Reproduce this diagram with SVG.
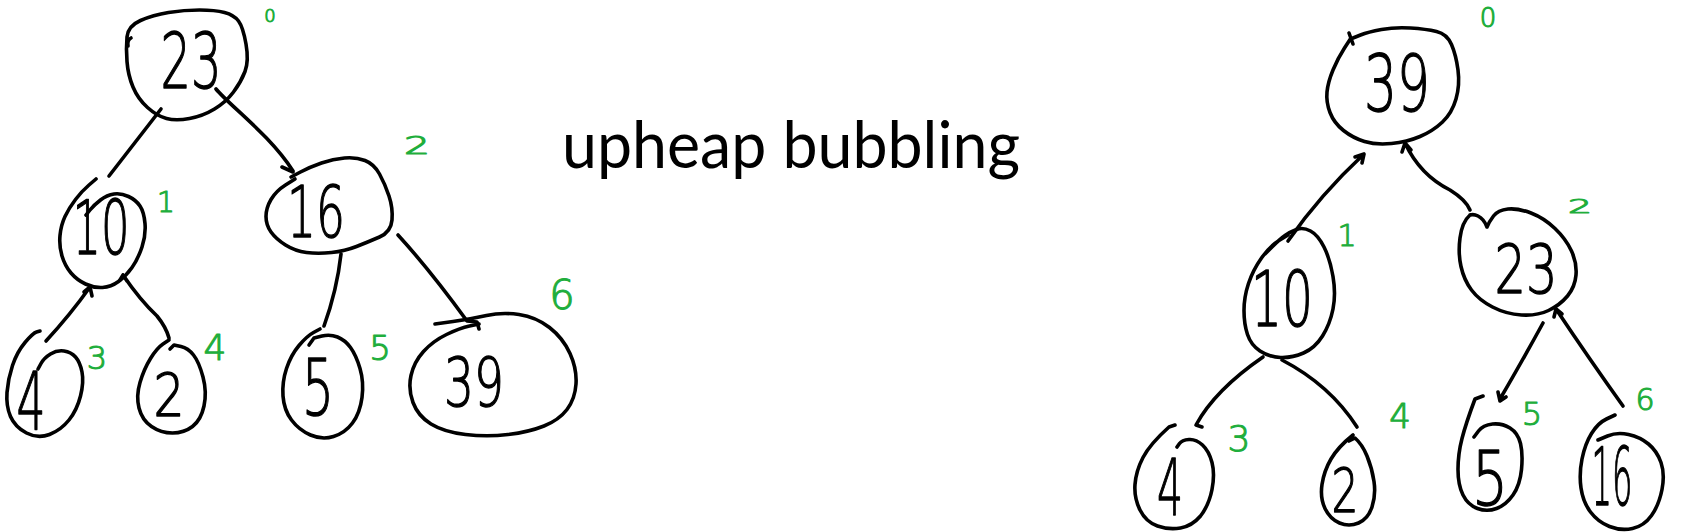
<svg xmlns="http://www.w3.org/2000/svg" width="1702" height="532" viewBox="0 0 1702 532">
<style>
.o{fill:none;stroke:#000;stroke-width:3.6;stroke-linecap:round;stroke-linejoin:round}
.v{font-family:"DejaVu Sans","Liberation Sans",sans-serif;font-weight:200;fill:#000;stroke:#000;stroke-width:1.4;stroke-linejoin:round;text-anchor:middle}
.i{font-family:"DejaVu Sans","Liberation Sans",sans-serif;font-weight:200;fill:#1fae3c;stroke:#1fae3c;stroke-width:1.1;stroke-linejoin:round;text-anchor:middle}
.t{font-family:Lato,"Noto Sans",sans-serif;font-size:66px;fill:#000}
</style>
<rect width="1702" height="532" fill="#fff"/>
<g id="connectors" class="o">
<path d="M161,109 L109,176"/>
<path d="M216,89 C230,106 270,135 293,171 M282,167 L293,172"/>
<path d="M90,287 Q70,315 46,341 M84,292 L90,287 L92,296"/>
<path d="M123,275 Q140,300 157,316 Q166,327 169,338 M120,280 L123,275 L127,281"/>
<path d="M341,254 Q337,290 324,326"/>
<path d="M398,235 Q430,270 467,321 L477,322 L479,329"/>
<path d="M1364,154 Q1320,195 1288,241 M1355,157 L1364,154 L1362,163"/>
<path d="M1405,143 Q1420,175 1450,190 Q1466,200 1470,210 M1402,152 L1405,143 L1411,150"/>
<path d="M1263,357 Q1215,390 1196,425 L1202,427"/>
<path d="M1282,360 Q1330,385 1357,427"/>
<path d="M1543,323 Q1520,365 1500,399 M1498,392 L1500,401 L1506,397"/>
<path d="M1556,309 Q1590,360 1623,406 M1554,317 L1556,309 L1562,314"/>
</g>
<text class="t" x="562" y="168" textLength="458" lengthAdjust="spacingAndGlyphs">upheap bubbling</text>
<g id="L23">
<path class="o" d="M140.5,20.5 Q153,15 168.5,12.5 Q184,10 199.5,10 Q215,10 224.5,12.5 Q234,15 238.5,21 Q243,27 246,44 Q249,61 245,71.5 Q241,82 233.5,92 Q226,102 214.5,109 Q203,116 189.5,118.5 Q176,121 166.5,118.5 Q157,116 147.5,107.5 Q138,99 133,87 Q128,75 127,61.5 Q126,48 127,37 Q128,26 140.5,20.5 M131,38 Q127,40 128,46"/>
<text class="v" x="191" y="88" font-size="77" textLength="61" lengthAdjust="spacingAndGlyphs">23</text>
<text class="i" x="270" y="22" font-size="18">0</text>
</g>
<g id="L10">
<path class="o" d="M96,179 L89,185 Q82,191 75.5,199.5 Q69,208 65,216.5 Q61,225 60,235.5 Q59,246 62,256 Q65,266 71,273 Q77,280 85.5,284 Q94,288 102.5,287.5 Q111,287 118.5,281.5 Q126,276 132,267.5 Q138,259 142,247 Q146,235 145,223.5 Q144,212 140,206 Q136,200 128.5,196.5 Q121,193 114,194 Q107,195 100.5,200 Q94,205 90,210 L86,215"/>
<text class="v" x="101" y="254" font-size="75" textLength="57" lengthAdjust="spacingAndGlyphs">10</text>
<text class="i" x="166" y="212" font-size="28">1</text>
</g>
<g id="L16">
<path class="o" d="M295,179 L285.5,185 Q276,191 271,199.5 Q266,208 266,216.5 Q266,225 271,232 Q276,239 285.5,245 Q295,251 306.5,252.5 Q318,254 331.5,252.5 Q345,251 356.5,246.5 Q368,242 379.5,237 Q391,232 392,220 Q393,208 389,196 Q385,184 379.5,174 Q374,164 365,160.5 Q356,157 344.5,158 Q333,159 321.5,163 Q310,167 300.5,172 L291,177"/>
<text class="v" x="316" y="237" font-size="71" textLength="58" lengthAdjust="spacingAndGlyphs">16</text>
<text class="i" x="417" y="154" font-size="24" textLength="26" lengthAdjust="spacingAndGlyphs">2</text>
</g>
<g id="L4">
<path class="o" d="M40,331 L36.5,332 Q33,333 25,342.5 Q17,352 12.5,365.5 Q8,379 7,392.5 Q6,406 10.5,416.5 Q15,427 26.5,433 Q38,439 49.5,434.5 Q61,430 69,420 Q77,410 80.5,396 Q84,382 82,372 Q80,362 75.5,357 Q71,352 64,351 Q57,350 50.5,354 Q44,358 41,363.5 L38,369"/>
<text class="v" x="31" y="430" font-size="80" textLength="29" lengthAdjust="spacingAndGlyphs">4</text>
<text class="i" x="97" y="369" font-size="32">3</text>
</g>
<g id="L2">
<path class="o" d="M169,340 L163,344 Q157,348 150.5,358.5 Q144,369 140,382.5 Q136,396 139,408 Q142,420 151.5,426.5 Q161,433 172.5,433 Q184,433 192.5,426.5 Q201,420 204,406 Q207,392 203,377 Q199,362 193.5,355 Q188,348 181,346.5 L174,345 L170,349"/>
<text class="v" x="169" y="416" font-size="58" textLength="31" lengthAdjust="spacingAndGlyphs">2</text>
<text class="i" x="215" y="360" font-size="36">4</text>
</g>
<g id="L5">
<path class="o" d="M320,329 L313.5,332.5 Q307,336 299,345.5 Q291,355 286.5,368.5 Q282,382 283,396 Q284,410 291.5,420 Q299,430 310.5,435 Q322,440 333.5,436.5 Q345,433 352.5,423 Q360,413 362,397.5 Q364,382 360,368.5 Q356,355 350.5,347.5 Q345,340 337.5,337 Q330,334 322,336 L314,338 L309,345"/>
<text class="v" x="318" y="415" font-size="78" textLength="32" lengthAdjust="spacingAndGlyphs">5</text>
<text class="i" x="380" y="360" font-size="34">5</text>
</g>
<g id="L39">
<path class="o" d="M435,324 L453,321.5 Q471,319 486.5,315.5 Q502,312 519,314.5 Q536,317 549.5,327.5 Q563,338 570,353.5 Q577,369 576,384 Q575,399 567,409.5 Q559,420 544,426 Q529,432 508,434.5 Q487,437 465.5,434.5 Q444,432 431,424 Q418,416 413,402.5 Q408,389 411,375.5 Q414,362 423.5,351.5 Q433,341 446.5,334.5 Q460,328 469.5,326 L479,324"/>
<text class="v" x="474" y="406" font-size="67" textLength="60" lengthAdjust="spacingAndGlyphs">39</text>
<text class="i" x="562" y="309" font-size="40">6</text>
</g>
<g id="R39">
<path class="o" d="M1351,38 L1344.5,48 Q1338,58 1333,70 Q1328,82 1327,92 Q1326,102 1330,112.5 Q1334,123 1343.5,130.5 Q1353,138 1364.5,141.5 Q1376,145 1391.5,143.5 Q1407,142 1420,136.5 Q1433,131 1442.5,122 Q1452,113 1456,99 Q1460,85 1458,70 Q1456,55 1451.5,44.5 Q1447,34 1436.5,31.5 Q1426,29 1410.5,28 Q1395,27 1381.5,29.5 Q1368,32 1360.5,35 L1353,38 M1349,33 L1353,44"/>
<text class="v" x="1397" y="111" font-size="78" textLength="66" lengthAdjust="spacingAndGlyphs">39</text>
<text class="i" x="1488" y="27" font-size="26">0</text>
</g>
<g id="R10">
<path class="o" d="M1288,235 L1279,240.5 Q1270,246 1261.5,258 Q1253,270 1248.5,283.5 Q1244,297 1244,310.5 Q1244,324 1247.5,334.5 Q1251,345 1260,351 Q1269,357 1280.5,357.5 Q1292,358 1303.5,353 Q1315,348 1322.5,336 Q1330,324 1333,309 Q1336,294 1333,276.5 Q1330,259 1324,247 Q1318,235 1310.5,231 Q1303,227 1296.5,229.5 Q1290,232 1285,235.5 Q1280,239 1272.5,246.5 L1265,254"/>
<text class="v" x="1282" y="326" font-size="77" textLength="62" lengthAdjust="spacingAndGlyphs">10</text>
<text class="i" x="1347" y="246" font-size="30">1</text>
</g>
<g id="R23">
<path class="o" d="M1470,215 Q1462,222 1460,238 Q1458,253 1461,266.5 Q1464,280 1471.5,290 Q1479,300 1492.5,307 Q1506,314 1521.5,315 Q1537,316 1548.5,310.5 Q1560,305 1567.5,296 Q1575,287 1576,275 Q1577,263 1571.5,251 Q1566,239 1555,228.5 Q1544,218 1531,213 Q1518,208 1508,209 Q1498,210 1493.5,216 Q1489,222 1487,227 Q1484,219 1478,216 Q1474,214 1470,215"/>
<text class="v" x="1526" y="293" font-size="68" textLength="63" lengthAdjust="spacingAndGlyphs">23</text>
<text class="i" x="1580" y="213" font-size="20" textLength="24" lengthAdjust="spacingAndGlyphs">2</text>
</g>
<g id="R4">
<path class="o" d="M1175,425 L1169,427 Q1150,444 1143,457.5 Q1136,471 1135,484.5 Q1134,498 1140,510 Q1146,522 1157.5,526 Q1169,530 1180.5,528 Q1192,526 1200.5,516 Q1209,505 1212,489.5 Q1215,474 1212,462.5 Q1209,451 1202.5,445 Q1196,439 1189,439.5 Q1182,440 1179.5,443.5 L1177,447"/>
<text class="v" x="1170" y="515" font-size="78" textLength="26" lengthAdjust="spacingAndGlyphs">4</text>
<text class="i" x="1239" y="451" font-size="36">3</text>
</g>
<g id="R2">
<path class="o" d="M1353,435 Q1338,447 1331,459 Q1324,471 1322,484.5 Q1320,498 1325,508.5 Q1330,519 1339.5,523 Q1349,527 1358.5,523 Q1368,519 1372,507 Q1376,495 1374,481.5 Q1372,468 1367,456 Q1362,444 1355,438 L1349,441"/>
<text class="v" x="1345" y="512" font-size="61" textLength="27" lengthAdjust="spacingAndGlyphs">2</text>
<text class="i" x="1400" y="428" font-size="34">4</text>
</g>
<g id="R5">
<path class="o" d="M1483,396 L1475,399 Q1466,423 1462,438.5 Q1458,454 1458,469.5 Q1458,485 1463,495 Q1468,505 1477.5,508.5 Q1487,512 1496.5,508.5 Q1506,505 1513,495 Q1520,485 1521.5,469.5 Q1523,454 1520.5,443.5 Q1518,433 1510,428 Q1502,423 1492.5,424 Q1483,425 1478.5,431 L1474,437"/>
<text class="v" x="1490" y="505" font-size="75" textLength="36" lengthAdjust="spacingAndGlyphs">5</text>
<text class="i" x="1532" y="425" font-size="32">5</text>
</g>
<g id="R16">
<path class="o" d="M1615,415 L1606.5,419 Q1598,423 1591.5,433.5 Q1585,444 1582,459 Q1579,474 1581,488 Q1583,502 1590.5,512 Q1598,522 1609.5,526.5 Q1621,531 1632.5,528.5 Q1644,526 1651.5,515.5 Q1659,505 1662,489.5 Q1665,474 1661,462.5 Q1657,451 1648.5,444 Q1640,437 1628.5,434.5 Q1617,432 1607.5,436 L1598,440"/>
<text class="v" x="1612" y="505" font-size="80" textLength="41" lengthAdjust="spacingAndGlyphs">16</text>
<text class="i" x="1645" y="410" font-size="30">6</text>
</g>
</svg>
